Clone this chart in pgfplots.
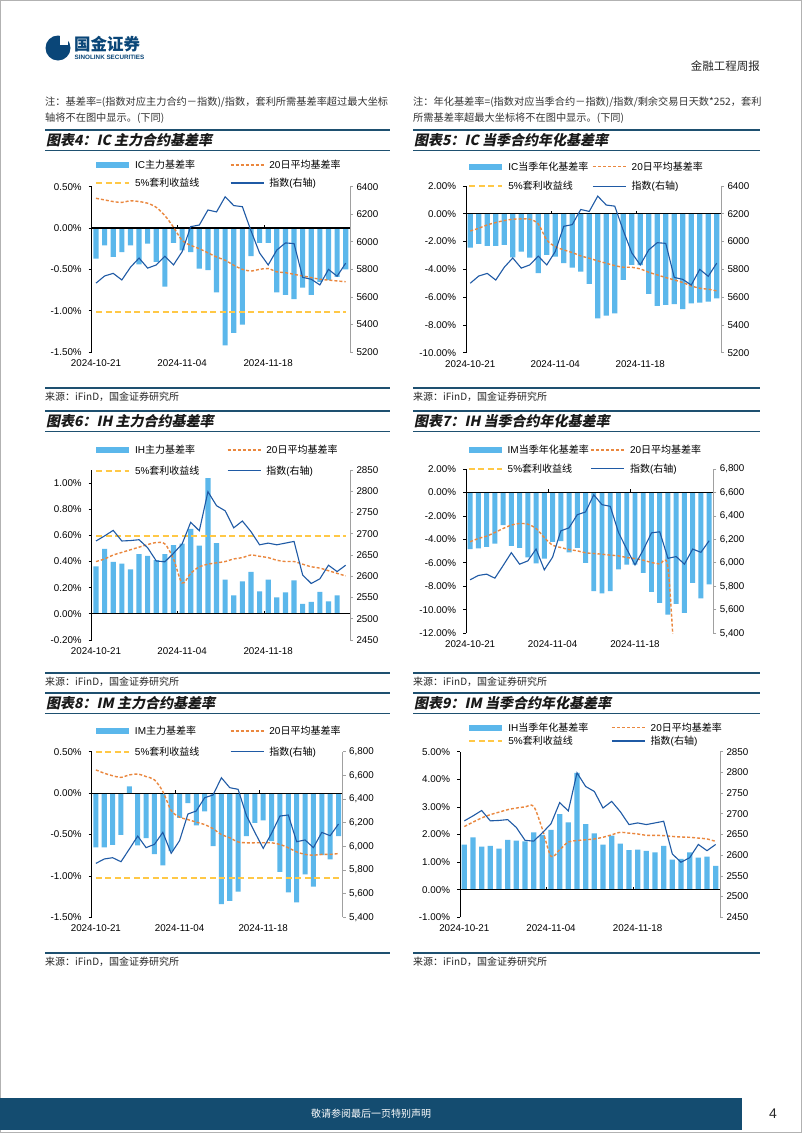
\documentclass[border=0pt]{standalone}
\usepackage{pgfplots}
\pgfplotsset{compat=1.18}
\usepackage{pgfplotstable}
\usepackage{fontspec}
\setmainfont{Liberation Sans}
\newfontfamily\cjk{Noto Sans CJK SC}
\newfontfamily\cjkt[FakeSlant=0.2]{Noto Sans CJK SC}

\definecolor{barblue}{RGB}{91,183,235}
\definecolor{avgorange}{RGB}{234,135,62}
\definecolor{arbyellow}{RGB}{255,200,70}
\definecolor{idxblue}{RGB}{31,90,165}
\definecolor{navy}{RGB}{30,80,112}
\definecolor{navyfoot}{RGB}{20,76,112}
\definecolor{logoblue}{RGB}{10,70,120}
\definecolor{axgray}{RGB}{160,160,160}

% IC main contract basis (%), 20d avg (%), CSI500 index
\pgfplotstableread{
i bar avg idx
0 -0.37 0.36 5700
1 -0.21 0.34 5752
2 -0.35 0.32 5771
3 -0.29 0.31 5723
4 -0.21 0.33 5815
5 -0.44 0.32 5882
6 -0.19 0.30 5809
7 -0.41 0.25 5832
8 -0.71 0.15 5895
9 -0.18 0.01 5832
10 -0.27 -0.15 5928
11 -0.29 -0.21 6110
12 -0.49 -0.25 6122
13 -0.51 -0.30 6231
14 -0.78 -0.35 6217
15 -1.42 -0.39 6327
16 -1.27 -0.45 6263
17 -1.17 -0.50 6255
18 -0.34 -0.52 6080
19 -0.18 -0.50 5919
20 -0.18 -0.49 5832
21 -0.78 -0.53 5940
22 -0.81 -0.54 5992
23 -0.86 -0.56 5987
24 -0.72 -0.58 5742
25 -0.81 -0.60 5728
26 -0.65 -0.62 5687
27 -0.63 -0.63 5800
28 -0.59 -0.64 5750
29 -0.50 -0.65 5845
}\dataICmain

% IC current-quarter annualized basis (%)
\pgfplotstableread{
i bar avg
0 -2.43 -1.24
1 -2.17 -1.04
2 -2.31 -0.80
3 -2.31 -0.63
4 -2.24 -0.49
5 -3.13 -0.39
6 -2.73 -0.37
7 -3.16 -0.39
8 -4.28 -0.73
9 -2.96 -1.88
10 -3.08 -2.36
11 -3.56 -2.60
12 -3.87 -2.79
13 -4.16 -3.03
14 -5.05 -3.20
15 -7.52 -3.39
16 -7.33 -3.56
17 -7.16 -3.73
18 -4.76 -3.85
19 -3.68 -3.85
20 -3.70 -3.97
21 -5.77 -4.21
22 -6.63 -4.40
23 -6.56 -4.59
24 -6.51 -4.76
25 -6.87 -4.95
26 -6.44 -5.19
27 -6.39 -5.36
28 -6.32 -5.43
29 -6.08 -5.55
}\dataICq

% IH main contract basis (%), SSE50 index
\pgfplotstableread{
i bar avg idx
0 0.364 0.40 2683
1 0.497 0.42 2695
2 0.397 0.45 2708
3 0.385 0.47 2683
4 0.341 0.49 2684
5 0.456 0.51 2686
6 0.444 0.53 2667
7 0.41 0.545 2636
8 0.456 0.535 2634
9 0.526 0.42 2654
10 0.538 0.236 2676
11 0.649 0.31 2727
12 0.521 0.36 2707
13 1.038 0.38 2799
14 0.541 0.39 2766
15 0.262 0.40 2754
16 0.141 0.42 2714
17 0.249 0.43 2730
18 0.321 0.45 2705
19 0.172 0.44 2674
20 0.262 0.43 2678
21 0.126 0.41 2674
22 0.164 0.40 2678
23 0.256 0.40 2682
24 0.077 0.38 2603
25 0.092 0.36 2583
26 0.169 0.35 2594
27 0.095 0.33 2626
28 0.141 0.31 2611
29 nan 0.29 2626
}\dataIHmain

% IM current-quarter annualized basis (%)
\pgfplotstableread{
i bar avg
0 -4.83 -4.20
1 -4.77 -3.92
2 -4.63 -3.72
3 -4.35 -3.41
4 -2.78 -3.07
5 -4.55 -2.78
6 -4.72 -2.64
7 -5.54 -2.70
8 -6.05 -3.07
9 -5.63 -3.84
10 -4.20 -4.49
11 -4.15 -4.69
12 -5.10 -4.86
13 -4.72 -4.97
14 -6.00 -5.14
15 -8.40 -5.20
16 -8.60 -5.26
17 -8.40 -5.34
18 -6.56 -5.40
19 -6.14 -5.54
20 -6.14 -5.63
21 -6.85 -5.77
22 -8.47 -5.97
23 -9.40 -6.10
24 -10.40 -6.40
25 -9.50 -16.0
26 -10.26 -17.0
27 -7.70 -17.5
28 -9.03 -18.0
29 -7.84 -18.5
}\dataIMq

% IM main contract basis (%), CSI1000 index
\pgfplotstableread{
i bar avg idx
0 -0.656 0.28 5856
1 -0.656 0.24 5893
2 -0.624 0.21 5904
3 -0.503 0.19 5870
4 0.08 0.22 5977
5 -0.632 0.23 6087
6 -0.543 0.20 5989
7 -0.736 0.16 6017
8 -0.873 0.02 6118
9 -0.70 -0.21 5941
10 -0.30 -0.29 6048
11 -0.12 -0.32 6273
12 -0.39 -0.35 6299
13 -0.22 -0.38 6411
14 -0.64 -0.43 6434
15 -1.34 -0.50 6580
16 -1.30 -0.54 6496
17 -1.19 -0.59 6482
18 -0.52 -0.60 6259
19 -0.36 -0.60 6118
20 -0.33 -0.60 5983
21 -0.58 -0.60 6110
22 -0.95 -0.62 6256
23 -1.20 -0.66 6265
24 -1.32 -0.71 6039
25 -0.98 -0.74 6054
26 -1.13 -0.75 5989
27 -0.75 -0.74 6118
28 -0.80 -0.74 6090
29 -0.52 -0.73 6189
}\dataIMmain

% IH current-quarter annualized basis (%)
\pgfplotstableread{
i bar avg
0 1.63 2.29
1 1.90 2.45
2 1.56 2.60
3 1.59 2.72
4 1.49 2.81
5 1.81 2.90
6 1.78 2.96
7 1.75 3.00
8 2.08 3.02
9 1.99 2.20
10 2.17 1.21
11 2.74 1.45
12 2.44 1.73
13 4.23 1.78
14 2.38 1.81
15 2.04 1.84
16 1.63 1.90
17 1.96 1.99
18 1.67 2.08
19 1.43 2.05
20 1.45 2.02
21 1.41 1.97
22 1.35 1.97
23 1.59 1.96
24 1.09 1.93
25 1.12 1.91
26 1.35 1.90
27 1.16 1.87
28 1.20 1.84
29 0.86 1.75
}\dataIHq

\pgfplotsset{
  cbase/.style={scale only axis, anchor=south west, xmin=-0.5, xmax=29.5,
    tick align=outside, major tick length=3pt,
    ticklabel style={font=\fontsize{9.8}{11}\selectfont, text=black},
    /pgf/number format/assume math mode=true},
  cleft/.style={cbase,
    axis y line*=left, axis x line*=bottom,
    x axis line style={draw=none}, xtick style={draw=none},
    y axis line style={black, line width=1pt},
    ytick style={black, line width=0.8pt},
    xtick={0,10,20}, xticklabels={2024-10-21,2024-11-04,2024-11-18},
    xticklabel style={yshift=-1pt},
    yticklabel={\pgfmathprintnumber[fixed,fixed zerofill,precision=2]{\tick}\%},
    yticklabel style={xshift=-3.5pt},
    legend columns=2,
    legend image code/.code={\draw[##1] (0pt,0pt) -- (33pt,0pt);}},
  cright/.style={cbase,
    axis y line*=right, axis x line=none, xtick=\empty,
    y axis line style={axgray, line width=0.8pt},
    ytick style={axgray, line width=0.8pt}},
  leg/.style n args={3}{legend style={draw=none, fill=none, inner sep=0pt, outer sep=0pt,
    at={(#1,#2)}, anchor=north west, row sep=#3, column sep=0pt,
    nodes={inner sep=0pt, outer sep=0pt, anchor=west, font=\fontsize{10}{12}\selectfont,
      text height=9.5pt, text depth=2pt},
    /tikz/every odd column/.append style={column sep=5pt}}},
  barplot/.style={ybar, bar width=0.6, fill=barblue, draw=none,
    legend image code/.code={\fill[barblue] (0pt,-3pt) rectangle (33pt,3pt);}},
  avgplot/.style={avgorange, line width=1.4pt, dash pattern=on 3pt off 2pt, smooth},
  arbplot/.style={arbyellow, line width=2pt, dash pattern=on 6pt off 3.5pt},
  idxplot/.style={idxblue, line width=1.1pt},
  zline/.style={black, line width=1.2pt, forget plot},
}
\newcommand{\zticks}{\draw[black, line width=0.8pt] (axis cs:9.5,0) -- ++(0pt,3pt) (axis cs:19.5,0) -- ++(0pt,3pt);}

\newcommand{\titleblock}[4]{%
  \draw[navy, line width=1.6pt] (#1,-#3) -- (#2,-#3);
  \draw[navy, line width=0.9pt] (#1,{-#3-20}) -- (#2,{-#3-20});
  \node[anchor=west, inner sep=0pt, font=\cjkt\bfseries\fontsize{14}{16}\selectfont, text=black!90] at ({#1+1},{-#3-10}) {#4};}
\newcommand{\sourceblock}[3]{%
  \draw[navy, line width=1.6pt] (#1,-#3) -- (#2,-#3);
  \node[anchor=west, inner sep=0pt, font=\cjk\fontsize{10}{11}\selectfont, text=black!85] at ({#1},{-#3-8.5}) {来源：iFinD，国金证券研究所};}

\begin{document}
\begin{tikzpicture}
\begin{scope}[x=1pt,y=1pt]
\path[use as bounding box] (0,0) rectangle (802,-1133);
\fill[white] (0,0) rectangle (802,-1133);
\draw[gray!60, line width=0.8pt] (0.4,-0.4) rectangle (801.6,-1132.6);

% header
\fill[logoblue] (58,-48) circle (12.5);
\fill[white] (59.5,-34) rectangle (68,-45);
\node[anchor=west, inner sep=0pt, text=logoblue, font=\cjk\bfseries\fontsize{16.5}{18}\selectfont] at (74,-44) {国金证券};
\node[anchor=west, inner sep=0pt, text=logoblue, font=\bfseries\fontsize{6.3}{7}\selectfont] at (74.5,-57.5) {SINOLINK SECURITIES};
\node[anchor=east, inner sep=0pt, font=\cjk\fontsize{11.5}{13}\selectfont, text=black!85] at (760,-66) {金融工程周报};

\begin{scope}[every node/.style={anchor=west, inner sep=0pt, font=\cjk\fontsize{10.2}{12}\selectfont, text=black!80}]
\node at (45,-102) {注：基差率=(指数对应主力合约－指数)/指数，套利所需基差率超过最大坐标};
\node at (45,-118) {轴将不在图中显示。(下同)};
\node at (413,-102) {注：年化基差率=(指数对应当季合约－指数)/指数/剩余交易日天数*252，套利};
\node at (413,-118) {所需基差率超最大坐标将不在图中显示。(下同)};
\end{scope}

\titleblock{45}{390}{130}{图表4：IC 主力合约基差率}
\titleblock{413}{760}{130}{图表5：IC 当季合约年化基差率}
\titleblock{45}{390}{411}{图表6：IH 主力合约基差率}
\titleblock{413}{760}{411}{图表7：IH 当季合约年化基差率}
\titleblock{45}{390}{693}{图表8：IM 主力合约基差率}
\titleblock{413}{760}{693}{图表9：IM 当季合约年化基差率}

\sourceblock{45}{390}{388}
\sourceblock{413}{760}{388}
\sourceblock{45}{390}{673}
\sourceblock{413}{760}{673}
\sourceblock{45}{390}{953}
\sourceblock{413}{760}{953}

% footer
\fill[navyfoot] (0,-1098) rectangle (742,-1129.5);
\node[text=white, inner sep=0pt, font=\cjk\fontsize{10}{12}\selectfont] at (371,-1114) {敬请参阅最后一页特别声明};
\node[inner sep=0pt, font=\fontsize{14}{16}\selectfont, text=black!85] at (773,-1114) {4};
\end{scope}

% ---------- Chart 4 ----------
\begin{axis}[cleft, at={(91.7pt,-352pt)}, width=258.3pt, height=165.3pt,
  ymin=-1.5, ymax=0.5, ytick={-1.5,-1,-0.5,0,0.5}, leg={0.0128}{1.166}{6.5pt}]
\addplot[barplot] table[x=i,y=bar]{\dataICmain};
\addlegendentry{\makebox[95pt][l]{IC{\cjk 主力基差率}}}
\addplot[zline] coordinates {(-0.5,0) (29.5,0)};
\zticks
\addplot[avgplot] table[x=i,y=avg]{\dataICmain};
\addlegendentry{20{\cjk 日平均基差率}}
\addplot[arbplot] coordinates {(0,-1.01) (29,-1.01)};
\addlegendentry{\makebox[95pt][l]{5\%{\cjk 套利收益线}}}
\addlegendimage{idxplot}
\addlegendentry{{\cjk 指数}({\cjk 右轴})}
\end{axis}
\begin{axis}[cright, at={(91.7pt,-352pt)}, width=258.3pt, height=165.3pt,
  ymin=5200, ymax=6400, ytick={5200,5400,...,6400}, yticklabel style={/pgf/number format/1000 sep={}}]
\addplot[idxplot] table[x=i,y=idx]{\dataICmain};
\end{axis}

% ---------- Chart 5 ----------
\begin{axis}[cleft, at={(466pt,-352.7pt)}, width=255pt, height=166.7pt,
  ymin=-10, ymax=2, ytick={-10,-8,...,2}, leg={0.009}{1.150}{7.8pt}]
\addplot[barplot] table[x=i,y=bar]{\dataICq};
\addlegendentry{\makebox[84pt][l]{IC{\cjk 当季年化基差率}}}
\addplot[zline] coordinates {(-0.5,0) (29.5,0)};
\zticks
\addplot[avgplot] table[x=i,y=avg]{\dataICq};
\addlegendentry{20{\cjk 日平均基差率}}
\addlegendimage{arbplot}
\addlegendentry{\makebox[84pt][l]{5\%{\cjk 套利收益线}}}
\addlegendimage{idxplot}
\addlegendentry{{\cjk 指数}({\cjk 右轴})}
\end{axis}
\begin{axis}[cright, at={(466pt,-352.7pt)}, width=255pt, height=166.7pt,
  ymin=5200, ymax=6400, ytick={5200,5400,...,6400}, yticklabel style={/pgf/number format/1000 sep={}}]
\addplot[idxplot] table[x=i,y=idx]{\dataICmain};
\end{axis}

% ---------- Chart 6 ----------
\begin{axis}[cleft, at={(91.7pt,-640pt)}, width=258.3pt, height=170pt,
  ymin=-0.2, ymax=1.1, ytick={-0.2,0,0.2,0.4,0.6,0.8,1.0}, leg={0.0128}{1.151}{9.2pt}]
\addplot[barplot] table[x=i,y=bar]{\dataIHmain};
\addlegendentry{\makebox[92pt][l]{IH{\cjk 主力基差率}}}
\addplot[zline] coordinates {(-0.5,0) (29.5,0)};
\zticks
\addplot[avgplot] table[x=i,y=avg]{\dataIHmain};
\addlegendentry{20{\cjk 日平均基差率}}
\addplot[arbplot] coordinates {(0,0.595) (29,0.595)};
\addlegendentry{\makebox[92pt][l]{5\%{\cjk 套利收益线}}}
\addlegendimage{idxplot}
\addlegendentry{{\cjk 指数}({\cjk 右轴})}
\end{axis}
\begin{axis}[cright, at={(91.7pt,-640pt)}, width=258.3pt, height=170pt,
  ymin=2450, ymax=2850, ytick={2450,2500,...,2850}, yticklabel style={/pgf/number format/1000 sep={}}]
\addplot[idxplot] table[x=i,y=idx]{\dataIHmain};
\end{axis}

% ---------- Chart 7 ----------
\begin{axis}[cleft, at={(466pt,-633.3pt)}, width=247.3pt, height=164.3pt,
  ymin=-12, ymax=2, ytick={-12,-10,...,2}, leg={0.0069}{1.151}{7.5pt}]
\addplot[barplot] table[x=i,y=bar]{\dataIMq};
\addlegendentry{\makebox[83pt][l]{IM{\cjk 当季年化基差率}}}
\addplot[zline] coordinates {(-0.5,0) (29.5,0)};
\zticks
\addplot[avgplot] table[x=i,y=avg]{\dataIMq};
\addlegendentry{20{\cjk 日平均基差率}}
\addlegendimage{arbplot}
\addlegendentry{\makebox[83pt][l]{5\%{\cjk 套利收益线}}}
\addlegendimage{idxplot}
\addlegendentry{{\cjk 指数}({\cjk 右轴})}
\end{axis}
\begin{axis}[cright, at={(466pt,-633.3pt)}, width=247.3pt, height=164.3pt,
  ymin=5400, ymax=6800, ytick={5400,5600,...,6800}, yticklabel style={/pgf/number format/1000 sep={,}}]
\addplot[idxplot] table[x=i,y=idx]{\dataIMmain};
\end{axis}

% ---------- Chart 8 ----------
\begin{axis}[cleft, at={(91.7pt,-917.3pt)}, width=251pt, height=165.6pt,
  ymin=-1.5, ymax=0.5, ytick={-1.5,-1,-0.5,0,0.5}, leg={0.0131}{1.160}{9.2pt}]
\addplot[barplot] table[x=i,y=bar]{\dataIMmain};
\addlegendentry{\makebox[95pt][l]{IM{\cjk 主力基差率}}}
\addplot[zline] coordinates {(-0.5,0) (29.5,0)};
\zticks
\addplot[avgplot] table[x=i,y=avg]{\dataIMmain};
\addlegendentry{20{\cjk 日平均基差率}}
\addplot[arbplot] coordinates {(0,-1.02) (29,-1.02)};
\addlegendentry{\makebox[95pt][l]{5\%{\cjk 套利收益线}}}
\addlegendimage{idxplot}
\addlegendentry{{\cjk 指数}({\cjk 右轴})}
\end{axis}
\begin{axis}[cright, at={(91.7pt,-917.3pt)}, width=251pt, height=165.6pt,
  ymin=5400, ymax=6800, ytick={5400,5600,...,6800}, yticklabel style={/pgf/number format/1000 sep={,}}]
\addplot[idxplot] table[x=i,y=idx]{\dataIMmain};
\end{axis}

% ---------- Chart 9 ----------
\begin{axis}[cleft, at={(460pt,-917.3pt)}, width=260pt, height=165.6pt,
  ymin=-1, ymax=5, ytick={-1,0,...,5}, leg={0.0319}{1.180}{1.8pt}]
\addplot[barplot] table[x=i,y=bar]{\dataIHq};
\addlegendentry{\makebox[103pt][l]{IH{\cjk 当季年化基差率}}}
\addplot[zline] coordinates {(-0.5,0) (29.5,0)};
\zticks
\addplot[avgplot] table[x=i,y=avg]{\dataIHq};
\addlegendentry{20{\cjk 日平均基差率}}
\addlegendimage{arbplot}
\addlegendentry{\makebox[103pt][l]{5\%{\cjk 套利收益线}}}
\addlegendimage{idxplot}
\addlegendentry{{\cjk 指数}({\cjk 右轴})}
\end{axis}
\begin{axis}[cright, at={(460pt,-917.3pt)}, width=260pt, height=165.6pt,
  ymin=2450, ymax=2850, ytick={2450,2500,...,2850}, yticklabel style={/pgf/number format/1000 sep={}}]
\addplot[idxplot] table[x=i,y=idx]{\dataIHmain};
\end{axis}
\end{tikzpicture}
\end{document}
